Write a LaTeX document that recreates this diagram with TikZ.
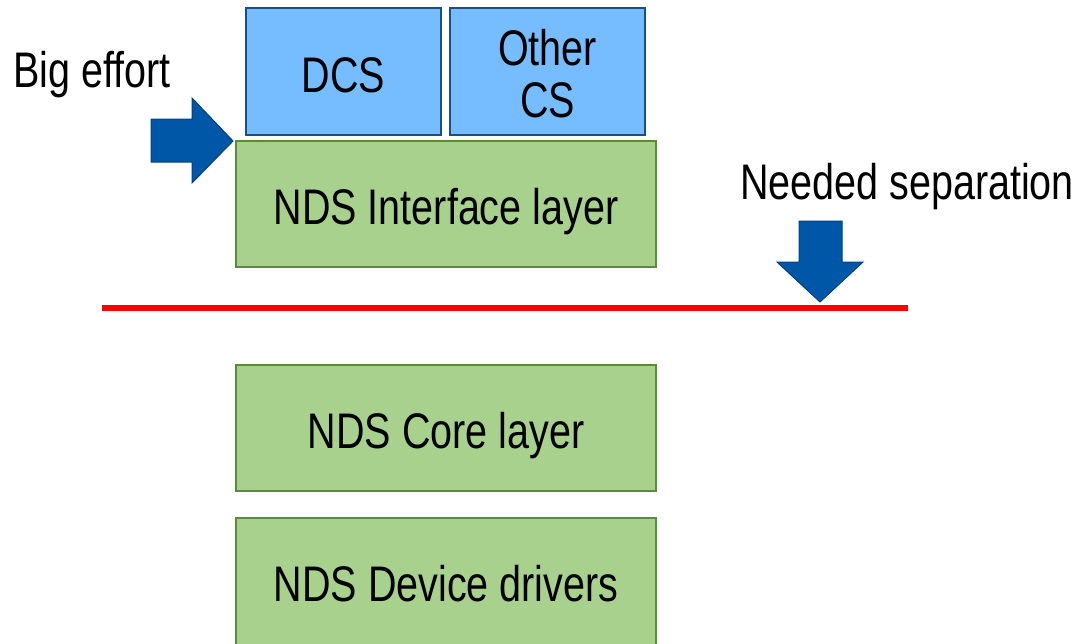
\documentclass[tikz,border=0pt]{standalone}
\usepackage{fontspec}
\setmainfont[FakeStretch=0.79]{Liberation Sans}
\definecolor{bluefill}{HTML}{75BDFF}
\definecolor{blueline}{HTML}{1F4E79}
\definecolor{greenfill}{HTML}{A9D18E}
\definecolor{greenline}{HTML}{5B8C3A}
\definecolor{arrowfill}{HTML}{0057A8}
\definecolor{arrowline}{HTML}{004080}
\begin{document}
\begin{tikzpicture}[x=1pt,y=-1pt,
  lbl/.style={font=\fontsize{50}{52}\selectfont, align=center, inner sep=0pt},
  bluebox/.style={draw=blueline, line width=2pt, fill=bluefill},
  greenbox/.style={draw=greenline, line width=2pt, fill=greenfill},
  fatarrow/.style={draw=arrowline, line width=1pt, fill=arrowfill, line join=miter}]
\useasboundingbox (0,0) rectangle (1078,643);
% boxes
\draw[bluebox] (246,8) rectangle (441,135);
\node[lbl, anchor=base] (dcs) at (343.5,92) {DCS};
\draw[bluebox] (450,8) rectangle (645,135);
\node[lbl] (other) at (547.5,74) {Other\\CS};
\draw[greenbox] (236,141) rectangle (656,267);
\node[lbl, anchor=base] (iface) at (446,224) {NDS Interface layer};
\draw[greenbox] (236,365) rectangle (656,491);
\node[lbl, anchor=base] (core) at (446,448) {NDS Core layer};
\draw[greenbox] (236,518) rectangle (656,650);
\node[lbl, anchor=base] (drv) at (446,601) {NDS Device drivers};
% red line
\draw[red, line width=6pt] (102,308) -- (908,308);
% arrows
\draw[fatarrow] (151,119) -- (192,119) -- (192,98) -- (233,141) -- (192,183) -- (192,162) -- (151,162) -- cycle;
\draw[fatarrow] (799,221) -- (842,221) -- (842,262) -- (863,262) -- (820,302) -- (777,262) -- (799,262) -- cycle;
% labels
\node[lbl, anchor=base] (big) at (92,87) {Big effort};
\node[lbl, anchor=base] (sep) at (907,199) {Needed separation};
\end{tikzpicture}
\end{document}
